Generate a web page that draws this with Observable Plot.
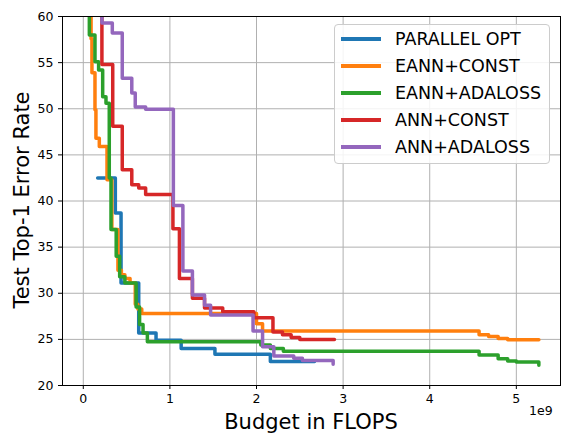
<!DOCTYPE html>
<html>
<head>
<meta charset="utf-8">
<script src="https://cdn.jsdelivr.net/npm/d3@7"></script>
<script src="https://cdn.jsdelivr.net/npm/@observablehq/plot@0.6"></script>
<style>
  body { margin: 0; font-family: "DejaVu Sans", sans-serif; background: #fff; }
  #wrap { position: relative; width: 572px; height: 444px; }
  #legend { position: absolute; left: 334px; top: 24px; width: 216px; height: 140px;
    border: 1px solid #ccc; border-radius: 4px; background: rgba(255,255,255,0.85); box-sizing: border-box; }
  .row { position: absolute; left: 6px; font-size: 17.5px; display: flex; align-items: center; }
  .sw { width: 40px; height: 4px; margin-right: 14px; }
  #exp { position: absolute; left: 529px; top: 403px; font-size: 12.5px; }
  #xl { position: absolute; left: 0; width: 622px; top: 410px; text-align: center; font-size: 21px; }
  #yl { position: absolute; left: 22px; top: 200px; font-size: 21px; white-space: nowrap;
    transform: translate(-50%, -50%) rotate(-90deg); }
</style>
</head>
<body>
<div id="wrap"><div id="chart"></div><div id="legend"></div><div id="exp">1e9</div>
<div id="xl">Budget in FLOPS</div><div id="yl">Test Top-1 Error Rate</div></div>
<script>
const names = ["PARALLEL OPT", "EANN+CONST", "EANN+ADALOSS", "ANN+CONST", "ANN+ADALOSS"]
const colors = ["#1f77b4", "#ff7f0e", "#2ca02c", "#d62728", "#9467bd"]

// budget in units of 1e9 FLOPS, error rate in %
const parX = [0.166, 0.37, 0.436, 0.64, 0.84, 1.13, 1.52, 2.16, 2.67]
const parY = [42.5, 38.7, 31.1, 25.7, 24.9, 24.0, 23.4, 22.6, 22.6]

const econstX = [0.09, 0.09, 0.10, 0.135, 0.146, 0.185, 0.274, 0.33, 0.40, 0.44, 0.48, 0.54, 0.60, 0.63, 0.675, 2.0, 2.07, 4.57, 4.68, 4.79, 4.9, 5.1, 5.26]
const econstY = [65, 57.6, 53.9, 49.9, 46.8, 45.9, 42.3, 36.9, 32.5, 32.0, 31.6, 31.1, 28.8, 28.3, 27.8, 26.7, 25.9, 25.5, 25.3, 25.1, 24.95, 24.95, 24.95]

const eadaX = [0.07, 0.07, 0.135, 0.177, 0.224, 0.262, 0.30, 0.32, 0.38, 0.42, 0.48, 0.61, 0.65, 0.69, 0.74, 2.05, 2.16, 2.31, 4.57, 4.79, 4.9, 5.0, 5.26, 5.26]
const eadaY = [65, 58.0, 55.1, 54.2, 51.3, 50.6, 42.5, 36.9, 34.0, 31.8, 31.1, 28.5, 26.6, 25.7, 24.75, 24.4, 24.0, 23.7, 23.3, 22.9, 22.65, 22.55, 22.55, 22.2]

const aconstX = [0.215, 0.215, 0.34, 0.45, 0.56, 0.64, 0.72, 1.035, 1.11, 1.26, 1.4, 1.61, 1.97, 2.19, 2.3, 2.4, 2.5, 2.9]
const aconstY = [65, 54.8, 48.1, 43.4, 41.75, 41.4, 40.7, 37.0, 31.6, 29.45, 28.4, 28.0, 27.35, 25.8, 25.5, 25.2, 25.0, 25.0]

const aadaX = [0.215, 0.215, 0.335, 0.45, 0.56, 0.6, 0.72, 1.04, 1.15, 1.26, 1.4, 1.47, 1.96, 2.07, 2.2, 2.43, 2.53, 2.885, 2.885]
const aadaY = [65, 59.3, 58.2, 53.3, 51.7, 50.2, 49.95, 39.5, 32.4, 29.8, 28.7, 27.65, 25.9, 24.2, 23.2, 22.95, 22.7, 22.7, 22.3]

const series = [[parX, parY], [econstX, econstY], [eadaX, eadaY], [aconstX, aconstY], [aadaX, aadaY]]
const data = series.flatMap(([xs, ys], k) => xs.map((x, i) => ({x, y: ys[i], s: names[k]})))

const chart = Plot.plot({
  width: 572, height: 444,
  marginLeft: 62, marginRight: 12, marginTop: 16, marginBottom: 59,
  style: {fontFamily: "DejaVu Sans", fontSize: "12.5px", color: "#000"},
  x: {domain: [-0.24, 5.51], ticks: [0, 1, 2, 3, 4, 5], tickFormat: d => d, label: null, tickSize: 4},
  y: {domain: [20, 60], ticks: d3.range(20, 61, 5), label: null, tickSize: 4},
  color: {domain: names, range: colors},
  marks: [
    Plot.gridX([0, 1, 2, 3, 4, 5], {stroke: "#b0b0b0", strokeOpacity: 1}),
    Plot.gridY(d3.range(20, 61, 5), {stroke: "#b0b0b0", strokeOpacity: 1}),
    Plot.line(data, {x: "x", y: "y", z: "s", stroke: "s", strokeWidth: 3.5, curve: "step-after", clip: true}),
    Plot.frame({stroke: "#000"})
  ]
})
d3.select("#chart").append(() => chart)

const leg = d3.select("#legend")
names.forEach((n, i) => {
  const r = leg.append("div").attr("class", "row").style("top", (4 + i * 27) + "px")
  r.append("div").attr("class", "sw").style("background", colors[i])
  r.append("span").text(n)
})
</script>
</body>
</html>
